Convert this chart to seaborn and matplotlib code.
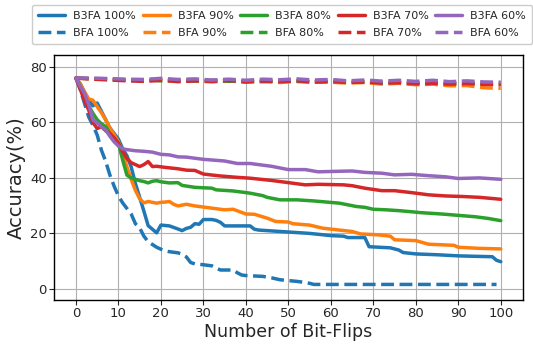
import numpy as np
import pandas as pd
import matplotlib
matplotlib.use('Agg')
import matplotlib.pyplot as plt
import seaborn as sns

sns.set_style('ticks')
plt.rcParams['font.family'] = ['DejaVu Sans']

# B3FA 曲线（实线）
x_b100 = [0, 1, 2, 3, 4, 5, 6, 7, 8, 9, 10, 11, 12, 13, 14, 15, 16, 17, 18, 19, 20, 22, 24, 25, 26, 27,
          28, 29, 30, 32, 33, 34, 35, 41, 42, 43, 45, 50, 55, 60, 63, 64, 68, 69, 74, 76, 77, 80, 85,
          90, 95, 98, 99, 100]
y_b100 = [76, 74, 71, 68, 66, 67, 64, 61, 58, 56, 54, 50.5, 48, 44, 38, 33, 28, 22.8, 21.5, 20.2, 23,
          22.7, 21.6, 21, 21.8, 22.2, 23.5, 23.3, 25, 25, 24.7, 24, 22.7, 22.7, 21.5, 21.2, 21, 20.5,
          20, 19.2, 19, 18.5, 18.5, 15.2, 14.8, 14, 13.1, 12.6, 12.3, 11.9, 11.7, 11.6, 10.3, 9.8]

x_b90 = [0, 1, 2, 3, 4, 5, 6, 7, 8, 9, 10, 11, 12, 13, 14, 15, 16, 17, 18, 19, 20, 21, 22, 23, 24,
         26, 28, 30, 32, 35, 37, 40, 42, 45, 47, 50, 51, 55, 58, 62, 65, 67, 71, 74, 75, 80, 83, 89,
         90, 95, 100]
y_b90 = [76, 74, 71, 68.5, 68, 65.7, 63.5, 61, 58, 55.5, 53, 49, 44, 39.5, 35.5, 32.5, 31, 31.5, 31.2,
         30.9, 31.2, 31.3, 31.5, 30.5, 29.9, 30.5, 29.9, 29.5, 29.1, 28.5, 28.7, 27, 26.9, 25.5, 24.3,
         24.1, 23.5, 23, 21.9, 21.2, 20.7, 19.8, 19.5, 19, 17.7, 17.4, 16.1, 15.7, 15, 14.6, 14.4]

x_b80 = [0, 1, 2, 3, 4, 5, 6, 7, 8, 9, 10, 11, 12, 13, 14, 15, 16, 17, 18, 19, 20, 22, 24, 25, 28,
         32, 33, 37, 41, 44, 45, 48, 52, 56, 59, 62, 66, 68, 70, 73, 76, 79, 81, 86, 90, 94, 97, 100]
y_b80 = [76, 73, 69, 66, 63.3, 61, 59.5, 58.5, 56, 54, 52.5, 46.5, 41, 40, 39.5, 39, 38.7, 38.2, 38.8,
         39, 38.6, 38.2, 38.3, 37.3, 36.6, 36.3, 35.7, 35.3, 34.5, 33.6, 33, 32.1, 32.1, 31.7, 31.3,
         30.9, 29.7, 29.4, 28.7, 28.5, 28.2, 27.8, 27.5, 27, 26.5, 26, 25.4, 24.6]

x_b70 = [0, 1, 2, 3, 4, 5, 6, 7, 8, 9, 10, 11, 12, 13, 14, 15, 16, 17, 18, 19, 21, 24, 26, 28, 30,
         34, 38, 41, 46, 50, 54, 57, 60, 63, 65, 68, 72, 75, 79, 83, 87, 91, 95, 100]
y_b70 = [76, 72, 68, 64.5, 60, 57.8, 58.5, 57, 56, 54.5, 52.5, 49.5, 47, 45.5, 44.8, 44.1, 44.8, 45.9,
         44.1, 44.2, 43.8, 43.3, 42.8, 42.7, 41.4, 40.7, 40.2, 39.9, 39.1, 38.3, 37.5, 37.7, 37.6,
         37.5, 37.2, 36.3, 35.4, 35.4, 34.7, 33.9, 33.5, 33.3, 33, 32.3]

x_b60 = [0, 1, 2, 3, 4, 5, 6, 7, 8, 9, 10, 11, 12, 14, 16, 18, 20, 22, 24, 26, 30, 35, 38, 41, 46,
         50, 54, 57, 62, 65, 68, 72, 75, 79, 83, 87, 90, 95, 100]
y_b60 = [76, 73, 70.5, 66.5, 61, 59.8, 58.5, 57.3, 55, 53, 51.5, 50.5, 50.2, 49.8, 49.6, 49.3, 48.5,
         48.3, 47.6, 47.5, 46.7, 46.1, 45.2, 45.2, 44.2, 43, 43, 42.2, 42.4, 42.5, 42, 41.7, 41.1,
         41.3, 40.8, 40.4, 39.8, 40, 39.5]

# BFA 曲线（虚线）
x_f100 = [0, 1, 2, 3, 4, 5, 6, 7, 8, 9, 10, 11, 12, 13, 14, 15, 16, 17, 18, 19, 20, 21, 22, 23, 24,
          25, 26, 27, 28, 30, 32, 33, 34, 37, 38, 39, 40, 44, 46, 48, 50, 52, 54, 55, 56, 99]
y_f100 = [76, 72, 67, 62, 59, 55.5, 50, 46, 41, 37, 33.5, 31, 29, 27, 23.5, 22, 19, 17, 16, 15, 14.3,
          13.7, 13.4, 13.2, 13, 12.5, 11.5, 9.5, 9, 8.7, 8.3, 7.5, 6.8, 6.8, 5.8, 5, 4.8, 4.5, 4,
          3.3, 3, 2.7, 2.3, 2, 1.6, 1.6]

x_top = [0, 4, 8, 12, 16, 20, 24, 28, 32, 36, 40, 44, 48, 52, 56, 60, 64, 68, 72, 76, 80, 84, 88,
         92, 96, 100]
y_f90 = [76, 75.8, 75.5, 75.3, 75, 75.3, 74.8, 75, 74.6, 75, 74.5, 74.8, 74.4, 74.8, 74.5, 74.5, 74.2,
         74.4, 73.8, 74.1, 73.6, 73.8, 73.2, 73.3, 72.5, 72.3]
y_f80 = [76, 75.7, 75.5, 75.2, 75.4, 75, 75.2, 74.9, 75.2, 74.8, 75, 74.7, 75, 74.8, 74.6, 74.9, 74.5,
         74.6, 74.3, 74.5, 74.2, 74.4, 74.1, 74.3, 74, 73.8]
y_f70 = [76, 75.6, 75.3, 75, 74.8, 75.2, 74.7, 75, 74.8, 75.1, 74.6, 74.9, 74.7, 75, 74.6, 74.8, 74.4,
         74.6, 74.2, 74.3, 73.9, 74.1, 73.8, 74, 73.7, 73.6]
y_f60 = [76, 76, 75.8, 75.6, 75.5, 75.9, 75.5, 75.7, 75.3, 75.6, 75.2, 75.6, 75.4, 75.7, 75.3, 75.5,
         75, 75.3, 74.9, 75.2, 74.8, 75.2, 74.7, 75, 74.6, 74.5]

rates = ['100%', '90%', '80%', '70%', '60%']
b3fa = [(x_b100, y_b100), (x_b90, y_b90), (x_b80, y_b80), (x_b70, y_b70), (x_b60, y_b60)]
bfa = [(x_f100, y_f100), (x_top, y_f90), (x_top, y_f80), (x_top, y_f70), (x_top, y_f60)]
colors = sns.color_palette('tab10', 5)

fig = plt.figure(figsize=(5.33, 3.44), dpi=100)
ax = fig.add_axes([0.101, 0.128, 0.880, 0.712])

for i, r in enumerate(rates):
    sns.lineplot(x=b3fa[i][0], y=b3fa[i][1], ax=ax, color=colors[i], lw=2.5,
                 label=f'B3FA {r}')
    sns.lineplot(x=bfa[i][0], y=bfa[i][1], ax=ax, color=colors[i], lw=2.5,
                 linestyle='--', label=f'BFA {r}')

ax.set_xlim(-5.2, 105.2)
ax.set_ylim(-4, 84.3)
ax.set_xticks(np.arange(0, 101, 10))
ax.set_yticks([0, 20, 40, 60, 80])
ax.tick_params(labelsize=9.5, pad=1.5)
ax.grid(True, color='#b0b0b0', lw=0.8)
for s in ax.spines.values():
    s.set_color('black')
    s.set_linewidth(1.0)
ax.set_xlabel('Number of Bit-Flips', fontsize=12.5, labelpad=2)
ax.set_ylabel('Accuracy(%)', fontsize=14, labelpad=3)

ax.legend(ncol=5, loc='upper center', bbox_to_anchor=(282 / 533, 1 - 5 / 344),
          bbox_transform=fig.transFigure, borderaxespad=0, fontsize=8,
          handlelength=2.45, columnspacing=0.6, handletextpad=0.7,
          borderpad=0.55, labelspacing=0.6, framealpha=1, edgecolor='#cccccc')

plt.savefig('out.png', dpi=100)
